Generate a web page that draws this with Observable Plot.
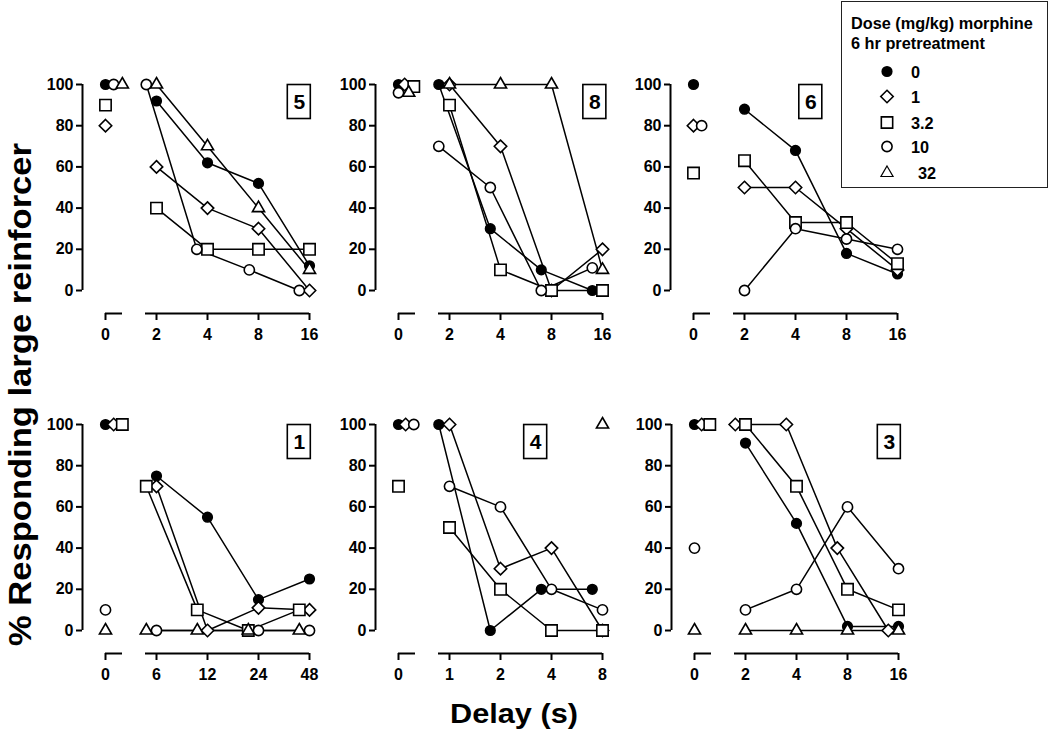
<!DOCTYPE html>
<html>
<head>
<meta charset="utf-8">
<script src="https://cdn.jsdelivr.net/npm/d3@7"></script>
<script src="https://cdn.jsdelivr.net/npm/@observablehq/plot@0.6"></script>
<style>
  html, body { margin: 0; padding: 0; background: #fff; }
  #root { position: relative; width: 1050px; height: 734px; overflow: hidden; font-family: "Liberation Sans", Arial, sans-serif; }
  .panel { position: absolute; }
  #legend { position: absolute; left: 841px; top: 1px; width: 207px; height: 187px; box-sizing: border-box; border: 1px solid #222; background: #fff; }
  svg text { font-family: "Liberation Sans", Arial, sans-serif; }
</style>
</head>
<body>
<div id="root"></div>
<script>
// ---------------- data ----------------
const doses = ["0", "1", "3.2", "10", "32"];
const yTicks = [0, 20, 40, 60, 80, 100];

// Subject 5
const p5Delays = [0, 2, 4, 8, 16];
const p5Values = [
  [100, 92, 62, 52, 12],
  [80, 60, 40, 30, 0],
  [90, 40, 20, 20, 20],
  [100, 100, 20, 10, 0],
  [100, 100, 70, 40, 10]
];
const p5Nudge = [
  [0, 0, 0, 0, 0],
  [0, 0, 0, 0, 0],
  [0, 0, 0, 0, 0],
  [0.16, -0.2, -0.21, -0.18, -0.2],
  [0.33, 0, 0, 0, 0]
];

// Subject 8
const p8Delays = [0, 2, 4, 8, 16];
const p8Values = [
  [100, 100, 30, 10, 0],
  [100, 100, 70, 0, 20],
  [99, 90, 10, 0, 0],
  [96, 70, 50, 0, 11],
  [96, 100, 100, 100, 10]
];
const p8Nudge = [
  [0, -0.21, -0.2, -0.2, -0.2],
  [0.12, 0, 0, 0, 0],
  [0.3, 0, 0, 0, 0],
  [0, -0.21, -0.2, -0.2, -0.2],
  [0.2, 0, 0, 0, 0]
];

// Subject 6
const p6Delays = [0, 2, 4, 8, 16];
const p6Values = [
  [100, 88, 68, 18, 8],
  [80, 50, 50, 30, 10],
  [57, 63, 33, 33, 13],
  [80, 0, 30, 25, 20],
  [null, null, null, null, null]
];
const p6Nudge = [
  [0, 0, 0, 0, 0],
  [0, 0, 0, 0, 0],
  [0, 0, 0, 0, 0],
  [0.16, 0, 0, 0, 0],
  [0, 0, 0, 0, 0]
];

// Subject 1
const p1Delays = [0, 6, 12, 24, 48];
const p1Values = [
  [100, 75, 55, 15, 25],
  [100, 70, 0, 11, 10],
  [100, 70, 10, 0, 10],
  [10, 0, null, 0, 0],
  [0, 0, 0, 0, 0]
];
const p1Nudge = [
  [0, 0, 0, 0, 0],
  [0.16, 0, 0, 0, 0],
  [0.33, -0.2, -0.2, -0.2, -0.2],
  [0, 0, 0, 0, 0],
  [0, -0.2, -0.2, -0.2, -0.2]
];

// Subject 4
const p4Delays = [0, 1, 2, 4, 8];
const p4Values = [
  [100, 100, 0, 20, 20],
  [100, 100, 30, 40, 0],
  [70, 50, 20, 0, 0],
  [100, 70, 60, 20, 10],
  [null, null, null, null, 100]
];
const p4Nudge = [
  [0, -0.21, -0.2, -0.2, -0.2],
  [0.14, 0, 0, 0, 0],
  [0, 0, 0, 0, 0],
  [0.3, 0, 0, 0, 0],
  [0, 0, 0, 0, 0]
];

// Subject 3
const p3Delays = [0, 2, 4, 8, 16];
const p3Values = [
  [100, 91, 52, 2, 2],
  [100, 100, 100, 40, 0],
  [100, 100, 70, 20, 10],
  [40, 10, 20, 60, 30],
  [0, 0, 0, 0, 0]
];
const p3Nudge = [
  [0, 0, 0, 0, 0],
  [0.14, -0.2, -0.2, -0.2, -0.2],
  [0.3, 0, 0, 0, 0],
  [0, 0, 0, 0, 0],
  [0, 0, 0, 0, 0]
];

// ---------------- layout / style ----------------
const panels = [
  {label: "5", delays: p5Delays, values: p5Values, nudge: p5Nudge, boxAt: 2.80, x0: 82,  y100: 84},
  {label: "8", delays: p8Delays, values: p8Values, nudge: p8Nudge, boxAt: 2.85, x0: 375, y100: 84},
  {label: "6", delays: p6Delays, values: p6Values, nudge: p6Nudge, boxAt: 1.30, x0: 670, y100: 84},
  {label: "1", delays: p1Delays, values: p1Values, nudge: p1Nudge, boxAt: 2.80, x0: 82,  y100: 424},
  {label: "4", delays: p4Delays, values: p4Values, nudge: p4Nudge, boxAt: 1.69, x0: 375, y100: 424},
  {label: "3", delays: p3Delays, values: p3Values, nudge: p3Nudge, boxAt: 2.82, x0: 670.5, y100: 424}
];

const symbolNames = ["circle", "diamond2", "square", "circle", "triangle"];
const symbolR = [4.8, 5.6, 6.4, 5.1, 4.5];
const symbolFill = ["black", "white", "white", "white", "white"];
const d3Symbols = [d3.symbolCircle, d3.symbolDiamond2, d3.symbolSquare, d3.symbolCircle, d3.symbolTriangle];

const ML = 45, MR = 22, MT = 15, MB = 45;
const PX_PER_STEP = 51;      // px per doubling
const SPAN = 206;            // px for 0..100
const AXIS_GAP = 23;         // x axis below y=0
const U0 = -74 / PX_PER_STEP; // position of y axis in step units
const UMAX = 3;

const root = document.getElementById("root");

function pos(delays, i) {
  return delays[i] === 0 ? -1 : Math.log2(delays[i] / delays[1]);
}

panels.forEach(p => {
  const rows = [];
  p.values.forEach((series, k) => {
    series.forEach((v, i) => {
      if (v == null) return;
      rows.push({k, dose: doses[k], i, u: pos(p.delays, i) + p.nudge[k][i], y: v});
    });
  });
  const tickU = p.delays.map((d, i) => pos(p.delays, i));
  const tickLabel = new Map(tickU.map((u, i) => [u, String(p.delays[i])]));
  const width = ML + (UMAX - U0) * PX_PER_STEP + MR;
  const height = MT + SPAN + AXIS_GAP + MB;

  const marks = [
    Plot.ruleX([{u: U0, a: 0, b: 100}], {x: "u", y1: "a", y2: "b", strokeWidth: 2}),
    Plot.axisY({ticks: yTicks, anchor: "left", tickSize: 6, tickPadding: 3, strokeWidth: 2, label: null, fontSize: 16, fontWeight: "bold"}),
    Plot.ruleY([{y: 0, a: -1, b: -1 + 1 / 3}, {y: 0, a: -11 / PX_PER_STEP, b: UMAX}], {y: "y", x1: "a", x2: "b", dy: AXIS_GAP, strokeWidth: 2}),
    Plot.axisX({ticks: tickU, tickFormat: u => tickLabel.get(u), anchor: "bottom", tickSize: 7, tickPadding: 8, strokeWidth: 2, label: null, fontSize: 16, fontWeight: "bold"}),
    Plot.line(rows.filter(r => r.i > 0), {x: "u", y: "y", z: "dose", stroke: "black", strokeWidth: 1.5}),
  ];
  doses.forEach((d, k) => {
    marks.push(Plot.dot(rows.filter(r => r.k === k), {
      x: "u", y: "y", symbol: symbolNames[k], r: symbolR[k],
      fill: symbolFill[k], stroke: "black", strokeWidth: 1.6
    }));
  });
  marks.push(Plot.text([{u: p.boxAt, y: 91.5, t: p.label}], {x: "u", y: "y", text: "t", fontSize: 21, fontWeight: "bold", textAnchor: "middle", lineAnchor: "middle"}));

  const chart = Plot.plot({
    width, height,
    marginLeft: ML, marginRight: MR, marginTop: MT, marginBottom: MB,
    x: {type: "linear", domain: [U0, UMAX], range: [ML, ML + (UMAX - U0) * PX_PER_STEP], label: null},
    y: {type: "linear", domain: [0, 100], range: [MT + SPAN, MT], label: null},
    style: {fontFamily: "Liberation Sans, Arial, sans-serif", fontSize: "16px", fontWeight: "bold", color: "black", background: "transparent", overflow: "visible"},
    marks
  });
  // box around the subject label
  const sx = chart.scale("x"), sy = chart.scale("y");
  const cx = sx.apply(p.boxAt), cy = sy.apply(91.5);
  d3.select(chart).append("rect")
    .attr("x", cx - 11.5).attr("y", cy - 17).attr("width", 23).attr("height", 34)
    .attr("fill", "none").attr("stroke", "black").attr("stroke-width", 1.6);

  const wrap = document.createElement("div");
  wrap.className = "panel";
  wrap.style.left = (p.x0 - ML) + "px";
  wrap.style.top = (p.y100 - MT) + "px";
  wrap.appendChild(chart);
  root.appendChild(wrap);
});

// ---------------- axis titles ----------------
const overlay = d3.select(root).append("svg")
  .attr("width", 1050).attr("height", 734)
  .style("position", "absolute").style("left", "0px").style("top", "0px")
  .style("pointer-events", "none");
overlay.append("text")
  .attr("transform", "translate(31,394.5) rotate(-90)")
  .attr("text-anchor", "middle")
  .attr("font-size", 31).attr("font-weight", "bold")
  .attr("textLength", 503).attr("lengthAdjust", "spacingAndGlyphs")
  .text("% Responding large reinforcer");
overlay.append("text")
  .attr("x", 514).attr("y", 723)
  .attr("text-anchor", "middle")
  .attr("font-size", 27).attr("font-weight", "bold")
  .attr("textLength", 128).attr("lengthAdjust", "spacingAndGlyphs")
  .text("Delay (s)");

// ---------------- legend ----------------
const legendTitle = ["Dose (mg/kg) morphine", "6 hr pretreatment"];
const legendDiv = document.createElement("div");
legendDiv.id = "legend";
root.appendChild(legendDiv);
const lg = d3.select(legendDiv).append("svg").attr("width", 205).attr("height", 185);
legendTitle.forEach((t, i) => {
  lg.append("text").attr("x", 9).attr("y", 27 + i * 20)
    .attr("font-size", 16.3).attr("font-weight", "bold").text(t);
});
const rowY = [69.5, 94.5, 120.5, 144.5, 171];
doses.forEach((d, k) => {
  lg.append("path")
    .attr("transform", `translate(45,${rowY[k]})`)
    .attr("d", d3.symbol(d3Symbols[k], Math.PI * symbolR[k] * symbolR[k])())
    .attr("fill", symbolFill[k]).attr("stroke", "black").attr("stroke-width", k === 4 ? 1.2 : 1.6);
  lg.append("text").attr("x", k === 4 ? 76 : 69).attr("y", rowY[k] + 6)
    .attr("font-size", 16.3).attr("font-weight", "bold").text(d);
});
</script>
</body>
</html>
